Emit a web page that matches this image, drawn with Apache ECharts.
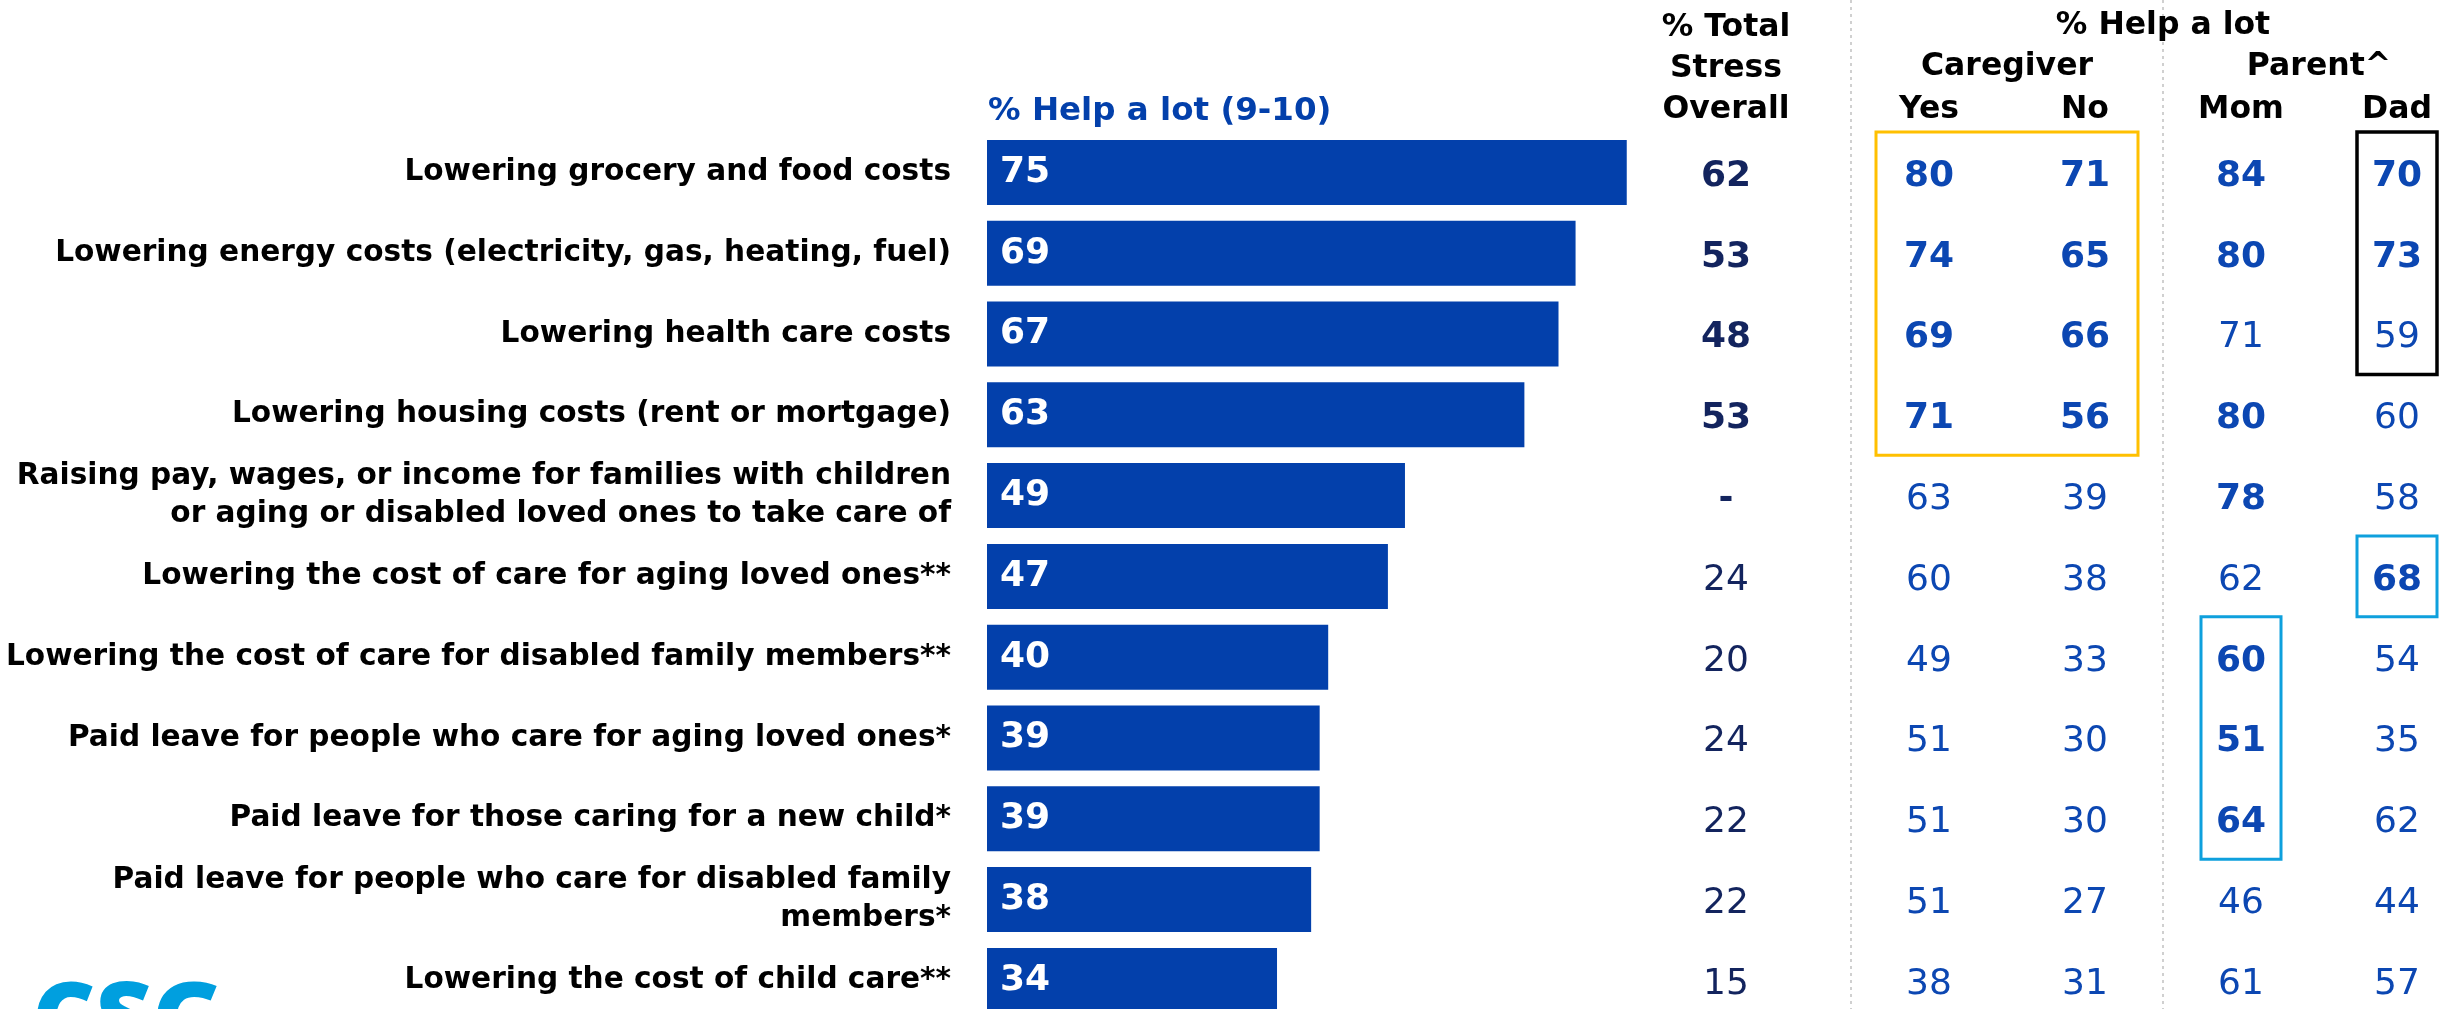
<!DOCTYPE html>
<html><head><meta charset="utf-8">
<script src="https://cdn.jsdelivr.net/npm/echarts@6/dist/echarts.min.js"></script>
<style>html,body{margin:0;padding:0;background:#fff;overflow:hidden}#c{width:2458px;height:1009px}</style>
</head><body><div id="c"></div>
<script>
// ---------- data ----------
const categories = [
  'Lowering grocery and food costs',
  'Lowering energy costs (electricity, gas, heating, fuel)',
  'Lowering health care costs',
  'Lowering housing costs (rent or mortgage)',
  'Raising pay, wages, or income for families with children\nor aging or disabled loved ones to take care of',
  'Lowering the cost of care for aging loved ones**',
  'Lowering the cost of care for disabled family members**',
  'Paid leave for people who care for aging loved ones*',
  'Paid leave for those caring for a new child*',
  'Paid leave for people who care for disabled family\nmembers*',
  'Lowering the cost of child care**'
];
const helpALot = [75, 69, 67, 63, 49, 47, 40, 39, 39, 38, 34];
const stressOverall = ['62', '53', '48', '53', '-', '24', '20', '24', '22', '22', '15'];
const caregiverYes = [80, 74, 69, 71, 63, 60, 49, 51, 51, 51, 38];
const caregiverNo = [71, 65, 66, 56, 39, 38, 33, 30, 30, 27, 31];
const parentMom = [84, 80, 71, 80, 78, 62, 60, 51, 64, 46, 61];
const parentDad = [70, 73, 59, 60, 58, 68, 54, 35, 62, 44, 57];
// 1 = shown bold
const overallBold = [1, 1, 1, 1, 1, 0, 0, 0, 0, 0, 0];
const yesBold = [1, 1, 1, 1, 0, 0, 0, 0, 0, 0, 0];
const noBold = [1, 1, 1, 1, 0, 0, 0, 0, 0, 0, 0];
const momBold = [1, 1, 0, 1, 1, 0, 1, 1, 1, 0, 0];
const dadBold = [1, 1, 0, 0, 0, 1, 0, 0, 0, 0, 0];
const overallColumn = ['% Total\nStress\nOverall'];
const groupColumns = ['Yes', 'No', 'Mom', 'Dad'];
const groupNames = ['Caregiver', 'Parent^'];
const barTitle = '% Help a lot (9-10)';
const groupTitle = '% Help a lot';
// highlighted boxes: [firstCol, lastCol, firstRow, lastRow]
const boxCells = [[0, 1, 0, 3], [3, 3, 0, 2], [3, 3, 5, 5], [2, 2, 6, 8]];

// ---------- styles ----------
const FONT = '"DejaVu Sans", "Open Sans", sans-serif';
const BAR = '#0340AB';
const BLUE = '#0C47B2';
const NAVY = '#13245E';
const NUMSIZE = 36;
const boxStyle = [
  { color: '#FFC000', inset: 25, width: 3 },
  { color: '#000000', inset: 38, width: 3.5 },
  { color: '#0EA0DD', inset: 38, width: 3 },
  { color: '#0EA0DD', inset: 38, width: 3 }
];

const overallCells = stressOverall.map((t, i) => ({ col: 0, row: i, text: t, bold: overallBold[i], color: NAVY }));
const groupCols = [[caregiverYes, yesBold], [caregiverNo, noBold], [parentMom, momBold], [parentDad, dadBold]];
const groupCells = [];
groupCols.forEach(([vals, bold], c) => vals.forEach((v, r) => groupCells.push({ col: c, row: r, text: String(v), bold: bold[r], color: BLUE })));

function textRender(cells) {
  return function (params, api) {
    const cell = cells[params.dataIndex];
    const p = api.coord([api.value(0), api.value(1)]);
    return {
      type: 'text', x: p[0], y: p[1] + 4,
      style: {
        text: cell.text, align: 'center', verticalAlign: 'middle',
        font: (cell.bold ? '700 ' : '400 ') + NUMSIZE + 'px ' + FONT,
        fill: cell.color
      }
    };
  };
}

const TOP = 132, ROWH = 80.8;
const gridH = ROWH * categories.length;

const catY = (gi) => ({
  type: 'category', gridIndex: gi, data: categories, inverse: true,
  axisLine: { show: false }, axisTick: { show: false },
  axisLabel: gi === 0 ? {
    show: true, fontFamily: FONT, fontWeight: 700, fontSize: 29.6, color: '#000',
    margin: 36, lineHeight: 38, align: 'right', padding: [16, 0, 0, 0]
  } : { show: false },
  splitLine: { show: false }
});

const hdrLabel = { fontFamily: FONT, fontWeight: 700, fontSize: 31.5, color: '#000', lineHeight: 41, margin: 2, verticalAlign: 'bottom' };
const gridBase = { top: TOP, height: gridH, outerBoundsMode: 'none', containLabel: false };

const option = {
  animation: false,
  backgroundColor: '#fff',
  grid: [
    Object.assign({ left: 987, width: 853 }, gridBase),
    Object.assign({ left: 1648, width: 156 }, gridBase),
    Object.assign({ left: 1851, width: 624 }, gridBase)
  ],
  xAxis: [
    { type: 'value', gridIndex: 0, min: 0, max: 100, show: false },
    {
      type: 'category', gridIndex: 1, data: overallColumn, position: 'top',
      axisLine: { show: false }, axisTick: { show: false }, splitLine: { show: false },
      axisLabel: hdrLabel
    },
    {
      type: 'category', gridIndex: 2, data: groupColumns, position: 'top',
      axisLine: { show: false }, axisTick: { show: false }, splitLine: { show: false },
      axisLabel: hdrLabel
    }
  ],
  yAxis: [catY(0), catY(1), catY(2)],
  series: [
    {
      type: 'bar', xAxisIndex: 0, yAxisIndex: 0, data: helpALot,
      barCategoryGap: '19.5%',
      itemStyle: { color: BAR },
      label: {
        show: true, position: 'insideLeft', distance: 13,
        fontFamily: FONT, fontWeight: 700, fontSize: NUMSIZE, color: '#fff', padding: [16, 0, 0, 0]
      }
    },
    {
      type: 'custom', xAxisIndex: 1, yAxisIndex: 1,
      data: overallCells.map(c => [c.col, c.row]),
      renderItem: textRender(overallCells)
    },
    {
      type: 'custom', xAxisIndex: 2, yAxisIndex: 2,
      data: groupCells.map(c => [c.col, c.row]),
      renderItem: textRender(groupCells)
    },
    {
      type: 'custom', xAxisIndex: 2, yAxisIndex: 2, z: 5,
      data: boxCells,
      renderItem: function (params, api) {
        const st = boxStyle[params.dataIndex];
        const a = api.coord([api.value(0), api.value(2)]);
        const b = api.coord([api.value(1), api.value(3)]);
        const s = api.size([1, 1]);
        const x0 = a[0] - s[0] / 2 + st.inset, x1 = b[0] + s[0] / 2 - st.inset;
        const y0 = a[1] - s[1] / 2, y1 = b[1] + s[1] / 2;
        return {
          type: 'rect', shape: { x: x0, y: y0, width: x1 - x0, height: y1 - y0 },
          style: { fill: 'none', stroke: st.color, lineWidth: st.width }
        };
      }
    }
  ]
};

const chart = echarts.init(document.getElementById('c'), null, { renderer: 'canvas' });
chart.setOption(option);

// header texts and separators positioned from the axes
const colX = (i) => chart.convertToPixel({ xAxisIndex: 2 }, i);
const band = colX(1) - colX(0);
const sep1 = colX(0) - band / 2, sep2 = colX(1) + band / 2;
const hdrFont = (sz) => ({ fontFamily: FONT, fontWeight: 700, fontSize: sz });
chart.setOption({
  graphic: [
    { type: 'line', shape: { x1: sep1, y1: 0, x2: sep1, y2: 1009 }, style: { stroke: '#D0D0D0', lineWidth: 2, lineDash: [3, 4] }, z: -1 },
    { type: 'line', shape: { x1: sep2, y1: 0, x2: sep2, y2: 1009 }, style: { stroke: '#D0D0D0', lineWidth: 2, lineDash: [3, 4] }, z: -1 },
    { type: 'text', x: 988, y: 112, style: Object.assign({ text: barTitle, fill: BAR, align: 'left', verticalAlign: 'middle' }, hdrFont(32.5)) },
    { type: 'text', x: sep2, y: 26, style: Object.assign({ text: groupTitle, fill: '#000', align: 'center', verticalAlign: 'middle' }, hdrFont(31.5)) },
    { type: 'text', x: (colX(0) + colX(1)) / 2, y: 67, style: Object.assign({ text: groupNames[0], fill: '#000', align: 'center', verticalAlign: 'middle' }, hdrFont(31.5)) },
    { type: 'text', x: (colX(2) + colX(3)) / 2, y: 67, style: Object.assign({ text: groupNames[1], fill: '#000', align: 'center', verticalAlign: 'middle' }, hdrFont(31.5)) },
    { type: 'text', x: 32, y: 975, style: { text: 'CSG', fill: '#009FDF', fontFamily: '"Open Sans", sans-serif', fontWeight: 800, fontSize: 98, align: 'left', verticalAlign: 'top' } }
  ]
});
</script>
</body></html>
